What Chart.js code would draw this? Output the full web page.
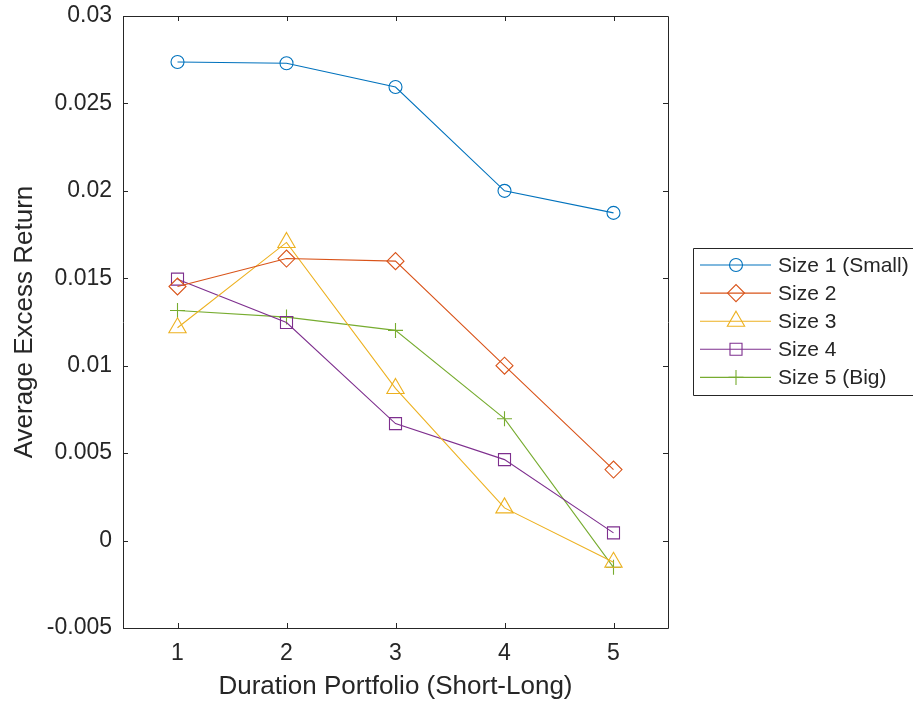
<!DOCTYPE html>
<html>
<head>
<meta charset="utf-8">
<style>
    html, body { margin: 0; padding: 0; background: #ffffff; }
    #wrap { width: 913px; height: 707px; }
</style>
</head>
<body>
<div id="wrap"><canvas id="chart" width="913" height="707"></canvas></div>
<script src="https://cdn.jsdelivr.net/npm/chart.js"></script>
<script>
    //values
    const durations = [1, 2, 3, 4, 5];
    const size1 = [0.02737, 0.0273, 0.02594, 0.0200, 0.01874];
    const size2 = [0.01453, 0.01613, 0.01598, 0.0100, 0.00406];
    const size3 = [0.01217, 0.01705, 0.0087, 0.00187, -0.00124];
    const size4 = [0.01495, 0.01247, 0.00669, 0.00463, 0.00044];
    const size5 = [0.01316, 0.01278, 0.01202, 0.00697, -0.00153];
    const seriesNames = ['Size 1 (Small)', 'Size 2', 'Size 3', 'Size 4', 'Size 5 (Big)'];
    const yTicks = [-0.005, 0, 0.005, 0.01, 0.015, 0.02, 0.025, 0.03];

    const ink = '#262626';
    const fontName = '"Liberation Sans", Arial, Helvetica, sans-serif';
    const colors = ['#0072BD', '#D95319', '#EDB120', '#7E2F8E', '#77AC30'];
    const markers = ['circle', 'rectRot', 'triangle', 'rect', 'cross'];
    const markerSize = [6.5, 8.5, 10, 8.5, 7.5];

    const allSeries = [size1, size2, size3, size4, size5];
    const datasets = allSeries.map((vals, i) => ({
        label: seriesNames[i],
        data: vals.map((v, j) => ({x: durations[j], y: v})),
        borderColor: colors[i],
        backgroundColor: 'transparent',
        borderWidth: 1.1,
        pointStyle: markers[i],
        pointRadius: markerSize[i],
        pointBorderColor: colors[i],
        pointBackgroundColor: 'transparent',
        pointBorderWidth: 1.1,
        tension: 0
    }));

    /*box round the plot with inward ticks on all four sides*/
    const frame = {
        id: 'frame',
        beforeDatasetsDraw(chart) {
            const {ctx, chartArea: a, scales: {x, y}} = chart;
            ctx.save();
            ctx.strokeStyle = ink;
            ctx.lineWidth = 1;
            ctx.beginPath();
            ctx.rect(Math.round(a.left) + 0.5, Math.round(a.top) + 0.5, Math.round(a.right - a.left), Math.round(a.bottom - a.top));
            durations.forEach(d => {
                const px = Math.round(x.getPixelForValue(d)) + 0.5;
                ctx.moveTo(px, a.bottom); ctx.lineTo(px, a.bottom - 5);
                ctx.moveTo(px, a.top); ctx.lineTo(px, a.top + 5);
            });
            yTicks.forEach(t => {
                const py = Math.round(y.getPixelForValue(t)) + 0.5;
                ctx.moveTo(a.left, py); ctx.lineTo(a.left + 5, py);
                ctx.moveTo(a.right, py); ctx.lineTo(a.right - 5, py);
            });
            ctx.stroke();
            ctx.restore();
        }
    };

    /*legend box outside the axes, line with marker through it*/
    const sideLegend = {
        id: 'sideLegend',
        afterDraw(chart) {
            const ctx = chart.ctx;
            const boxLeft = 693.5, boxTop = 248.5, boxBottom = 395.5;
            ctx.save();
            ctx.strokeStyle = ink;
            ctx.lineWidth = 1;
            ctx.beginPath();
            ctx.moveTo(920, boxTop); ctx.lineTo(boxLeft, boxTop);
            ctx.lineTo(boxLeft, boxBottom); ctx.lineTo(920, boxBottom);
            ctx.stroke();
            chart.data.datasets.forEach((ds, i) => {
                const rowY = 265 + i * 28.1;
                ctx.strokeStyle = ds.borderColor;
                ctx.fillStyle = 'rgba(0,0,0,0)';
                ctx.lineWidth = 1.1;
                ctx.beginPath();
                ctx.moveTo(700, rowY); ctx.lineTo(771, rowY);
                ctx.stroke();
                Chart.helpers.drawPoint(ctx, {
                    pointStyle: ds.pointStyle,
                    radius: ds.pointRadius,
                    borderWidth: 1.1,
                    rotation: 0
                }, 736, rowY);
                ctx.fillStyle = ink;
                ctx.font = '21px ' + fontName;
                ctx.textAlign = 'left';
                ctx.textBaseline = 'middle';
                ctx.fillText(ds.label, 778, rowY + 1);
            });
            ctx.restore();
        }
    };

    new Chart(document.getElementById('chart'), {
        type: 'line',
        data: { datasets: datasets },
        options: {
            responsive: false,
            animation: false,
            events: [],
            layout: { padding: { left: 0, top: 16, right: 245, bottom: 0 } },
            plugins: { legend: { display: false }, tooltip: { enabled: false } },
            scales: {
                x: {
                    type: 'linear',
                    min: 0.5,
                    max: 5.5,
                    afterBuildTicks: scale => { scale.ticks = durations.map(v => ({value: v})); },
                    afterFit: scale => { scale.height = 79; scale.paddingLeft = 0; scale.paddingRight = 0; },
                    grid: { display: false, drawTicks: false },
                    border: { display: false },
                    ticks: {
                        color: ink,
                        padding: 12,
                        font: { family: fontName, size: 23 },
                        callback: v => String(v)
                    },
                    title: {
                        display: true,
                        text: 'Duration Portfolio (Short-Long)',
                        color: ink,
                        font: { family: fontName, size: 26 },
                        padding: { top: 0, bottom: 5 }
                    }
                },
                y: {
                    type: 'linear',
                    min: -0.005,
                    max: 0.03,
                    afterBuildTicks: scale => { scale.ticks = yTicks.map(v => ({value: v})); },
                    afterFit: scale => { scale.width = 123; scale.paddingTop = 0; scale.paddingBottom = 0; },
                    grid: { display: false, drawTicks: false },
                    border: { display: false },
                    ticks: {
                        color: ink,
                        padding: 11,
                        font: { family: fontName, size: 23 },
                        callback: v => String(parseFloat(v.toFixed(4)))
                    },
                    title: {
                        display: true,
                        text: 'Average Excess Return',
                        color: ink,
                        font: { family: fontName, size: 26 },
                        padding: { top: 9, bottom: 0 }
                    }
                }
            }
        },
        plugins: [frame, sideLegend]
    });
</script>
</body>
</html>
